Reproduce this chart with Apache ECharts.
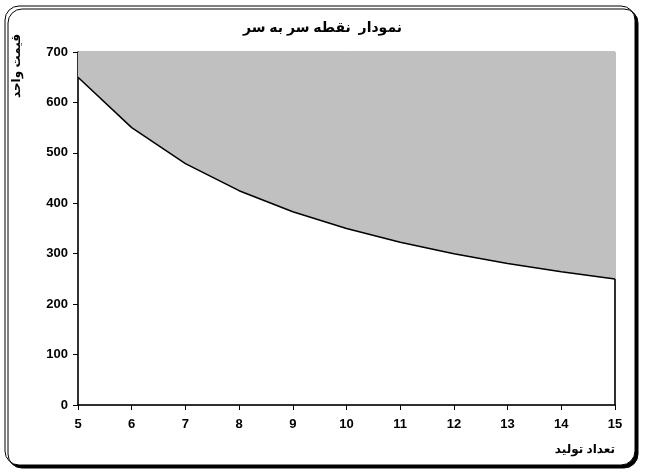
<!DOCTYPE html>
<html><head><meta charset="utf-8">
<script src="https://cdn.jsdelivr.net/npm/echarts@6/dist/echarts.min.js"></script>
<style>html,body{margin:0;padding:0;background:#fff}#c{width:645px;height:475px}</style>
</head><body><div id="c"></div>
<script>
const quantities = [5, 6, 7, 8, 9, 10, 11, 12, 13, 14, 15];
const unitPrices = [650, 550, 478.6, 425, 383.3, 350, 322.7, 300, 280.8, 264.3, 250];
const yTicks = [0, 100, 200, 300, 400, 500, 600, 700];
const titleText = 'نمودار  نقطه سر به سر';
const yTitle = 'قیمت واحد';
const xTitle = 'تعداد تولید';

const FONT = "'Liberation Sans', Arial, 'DejaVu Sans', sans-serif";
const chart = echarts.init(document.getElementById('c'), null, {renderer: 'canvas'});
const pts = quantities.map((q, i) => [q, unitPrices[i]]);
const last = pts[pts.length - 1];

chart.setOption({
  animation: false,
  backgroundColor: '#fff',
  graphic: [
    {type: 'rect', z: -10, shape: {x: 5, y: 6, width: 630, height: 459, r: 14},
     style: {fill: '#fff', stroke: '#000', lineWidth: 1, shadowColor: '#000', shadowOffsetX: 3, shadowOffsetY: 3, shadowBlur: 0}},
    {type: 'text', left: 'center', top: 21, style: {text: titleText, font: "bold 14px " + FONT, fill: '#000'}},
    {type: 'text', x: 17, y: 34, rotation: Math.PI / 2,
     style: {text: yTitle, x: 0, y: 0, font: "bold 12px " + FONT, fill: '#000', align: 'right', verticalAlign: 'middle'}},
    {type: 'text', right: 30, top: 444, style: {text: xTitle, font: "bold 12px " + FONT, fill: '#000'}}
  ],
  grid: {left: 78, right: 30, top: 52, bottom: 70, show: true, borderColor: '#808080', borderWidth: 1, backgroundColor: 'transparent'},
  xAxis: {
    type: 'value', min: 5, max: 15, interval: 1,
    axisLine: {show: true, onZero: false, lineStyle: {color: '#000', width: 1.5}},
    axisTick: {show: true, length: 5, lineStyle: {color: '#000'}},
    axisLabel: {color: '#000', fontWeight: 'bold', fontSize: 13, fontFamily: FONT, margin: 13},
    splitLine: {show: false}
  },
  yAxis: {
    type: 'value', min: 0, max: 700, interval: 100,
    axisLine: {show: true, lineStyle: {color: '#000', width: 1.5}},
    axisTick: {show: true, length: 5, lineStyle: {color: '#000'}},
    axisLabel: {color: '#000', fontWeight: 'bold', fontSize: 13, fontFamily: FONT, margin: 10,
      formatter: v => yTicks.includes(v) ? String(v) : ''},
    splitLine: {show: false}
  },
  series: [{
    type: 'line', data: pts, smooth: false, symbol: 'none',
    lineStyle: {color: '#000', width: 1.5},
    areaStyle: {origin: 'end', color: '#C0C0C0', opacity: 1},
    markLine: {silent: true, symbol: 'none', label: {show: false},
      lineStyle: {color: '#000', width: 1.5, type: 'solid'},
      data: [[{coord: [last[0], 0]}, {coord: last}]]}
  }]
});
</script></body></html>
